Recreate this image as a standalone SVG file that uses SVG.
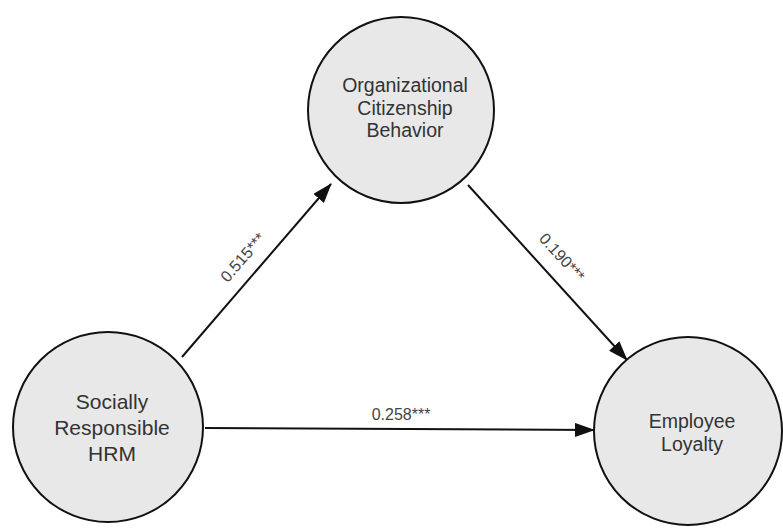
<svg xmlns="http://www.w3.org/2000/svg" width="783" height="529" viewBox="0 0 783 529">
<style>
.node{fill:#e8e8e8;stroke:#111;stroke-width:2}
.lbl{font-family:"Liberation Sans",Arial,sans-serif;fill:#333;text-anchor:middle}
.edge{stroke:#111;stroke-width:2;fill:none;marker-end:url(#ah)}
.el{font-family:"Liberation Sans",Arial,sans-serif;font-size:16px;fill:#444;text-anchor:middle}
</style>
<defs>
<marker id="ah" markerUnits="userSpaceOnUse" markerWidth="20" markerHeight="14" refX="19" refY="7" orient="auto">
<path d="M0,0 L20,7 L0,14 Z" fill="#111"/>
</marker>
</defs>
<rect width="783" height="529" fill="#fff"/>
<g id="connectors">
<line class="edge" x1="182" y1="357" x2="331" y2="184"/>
<line class="edge" x1="468" y1="185" x2="627" y2="360"/>
<line class="edge" x1="205" y1="428" x2="594" y2="430"/>
<text class="el" transform="translate(247,261) rotate(-49)">0.515***</text>
<text class="el" transform="translate(558,261) rotate(47.7)">0.190***</text>
<text class="el" x="401" y="420">0.258***</text>
</g>
<g id="ocb">
<circle class="node" cx="401" cy="110" r="93"/>
<text class="lbl" font-size="19.5"><tspan x="405" y="92">Organizational</tspan><tspan x="405" y="115">Citizenship</tspan><tspan x="405" y="137">Behavior</tspan></text>
</g>
<g id="srhrm">
<circle class="node" cx="108" cy="427" r="95"/>
<text class="lbl" font-size="21"><tspan x="112" y="409">Socially</tspan><tspan x="112" y="435">Responsible</tspan><tspan x="112" y="461">HRM</tspan></text>
</g>
<g id="el">
<circle class="node" cx="688" cy="431" r="94"/>
<text class="lbl" font-size="19.5"><tspan x="692" y="428">Employee</tspan><tspan x="692" y="451">Loyalty</tspan></text>
</g>
</svg>
